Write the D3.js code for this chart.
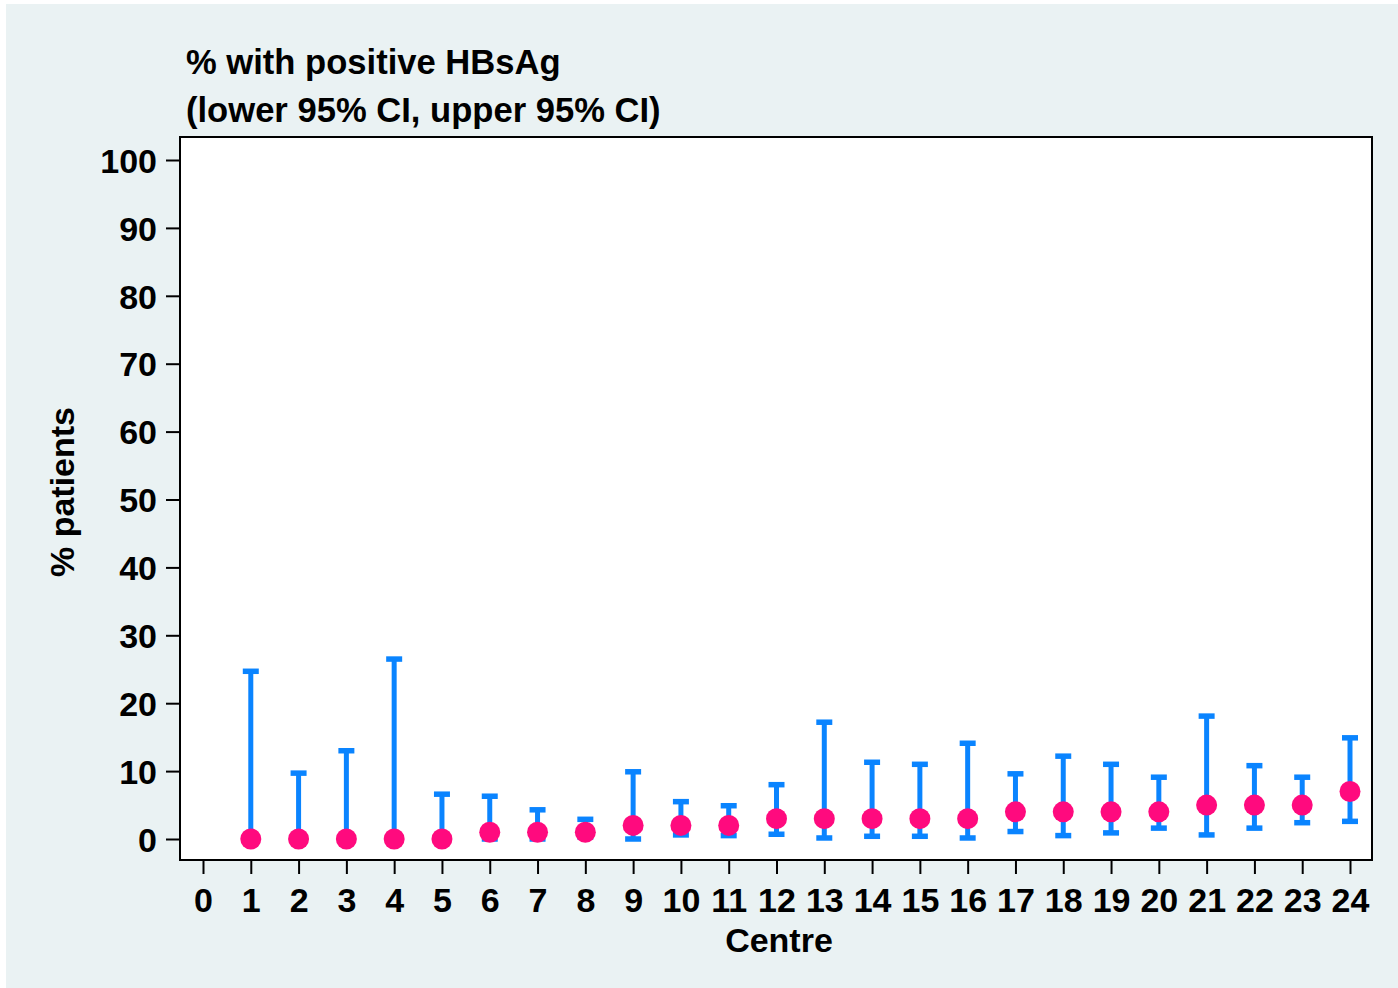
<!DOCTYPE html>
<html>
<head>
<meta charset="utf-8">
<script src="https://cdn.jsdelivr.net/npm/d3@7/dist/d3.min.js"></script>
<style>
html,body{margin:0;padding:0;background:#ffffff;}
svg{display:block;}
text{font-family:"Liberation Sans",Arial,sans-serif;font-weight:bold;fill:#000;}
</style>
</head>
<body>
<svg id="chart" width="1398" height="988"></svg>
<script>
const centres = [1,2,3,4,5,6,7,8,9,10,11,12,13,14,15,16,17,18,19,20,21,22,23,24];
const pct     = [0,0,0,0,0,1,1,1,2,2,2,3,3,3,3,3,4,4,4,4,5,5,5,7];
const lower   = [0,0,0,0,0,0,0,0.3,0,0.6,0.5,0.7,0.15,0.4,0.4,0.15,1.1,0.5,0.9,1.6,0.6,1.6,2.4,2.6];
const upper   = [24.7,9.7,13.0,26.5,6.6,6.3,4.3,2.9,9.9,5.5,4.9,8.0,17.2,11.3,11.0,14.1,9.6,12.2,11.0,9.1,18.1,10.8,9.1,14.9];
const xTicks  = d3.range(0,25);
const yTicks  = [0,10,20,30,40,50,60,70,80,90,100];
const titleLines = ["% with positive HBsAg","(lower 95% CI, upper 95% CI)"];

const svg = d3.select("#chart");
const blue = "#0a84ff", pink = "#ff0a7e";
const FS = 34;

// outer background
svg.append("rect").attr("x",6).attr("y",4).attr("width",1392).attr("height",984).attr("fill","#eaf2f3");

const L=180, R=1372, T=137, B=860;
const x = d3.scaleLinear().domain([0,24]).range([203,1350]);
const y = d3.scaleLinear().domain([0,100]).range([839,160]);

// plot region
svg.append("rect").attr("x",L).attr("y",T).attr("width",R-L).attr("height",B-T)
  .attr("fill","#fff").attr("stroke","#000").attr("stroke-width",2);

// y axis
const yAx = svg.append("g").attr("transform",`translate(${L},0)`)
  .call(d3.axisLeft(y).tickValues(yTicks).tickSize(14).tickPadding(9));
yAx.select(".domain").remove();
yAx.selectAll("line").attr("stroke","#000").attr("stroke-width",2);
yAx.selectAll("text").attr("font-size",FS).attr("font-family","Liberation Sans, Arial, sans-serif")
  .attr("font-weight","bold").attr("fill","#000").attr("dy","0.36em");

// x axis
const xAx = svg.append("g").attr("transform",`translate(0,${B})`)
  .call(d3.axisBottom(x).tickValues(xTicks).tickFormat(d3.format("d")).tickSize(14).tickPadding(14));
xAx.select(".domain").remove();
xAx.selectAll("line").attr("stroke","#000").attr("stroke-width",2);
xAx.selectAll("text").attr("font-size",FS).attr("font-family","Liberation Sans, Arial, sans-serif")
  .attr("font-weight","bold").attr("fill","#000");

// error bars
const data = centres.map((c,i)=>({c, p:pct[i], lo:lower[i], hi:upper[i]}));
const g = svg.append("g");
g.selectAll("line.bar").data(data).enter().append("line")
  .attr("x1",d=>x(d.c)).attr("x2",d=>x(d.c))
  .attr("y1",d=>y(d.lo)).attr("y2",d=>y(d.hi))
  .attr("stroke",blue).attr("stroke-width",5);
["lo","hi"].forEach(k=>{
  g.selectAll("line.cap"+k).data(data).enter().append("line")
    .attr("x1",d=>x(d.c)-8).attr("x2",d=>x(d.c)+8)
    .attr("y1",d=>y(d[k])).attr("y2",d=>y(d[k]))
    .attr("stroke",blue).attr("stroke-width",5.5);
});
g.selectAll("circle").data(data).enter().append("circle")
  .attr("cx",d=>x(d.c)).attr("cy",d=>y(d.p)).attr("r",10.5).attr("fill",pink);

// titles
svg.append("text").attr("x",186).attr("y",74).attr("font-size",34.6).text(titleLines[0]);
svg.append("text").attr("x",186).attr("y",122).attr("font-size",34.6).text(titleLines[1]);
svg.append("text").attr("x",(L+R)/2+3).attr("y",952).attr("text-anchor","middle").attr("font-size",FS).text("Centre");
svg.append("text").attr("transform","translate(74,492) rotate(-90)").attr("text-anchor","middle").attr("font-size",FS).text("% patients");
</script>
</body>
</html>
